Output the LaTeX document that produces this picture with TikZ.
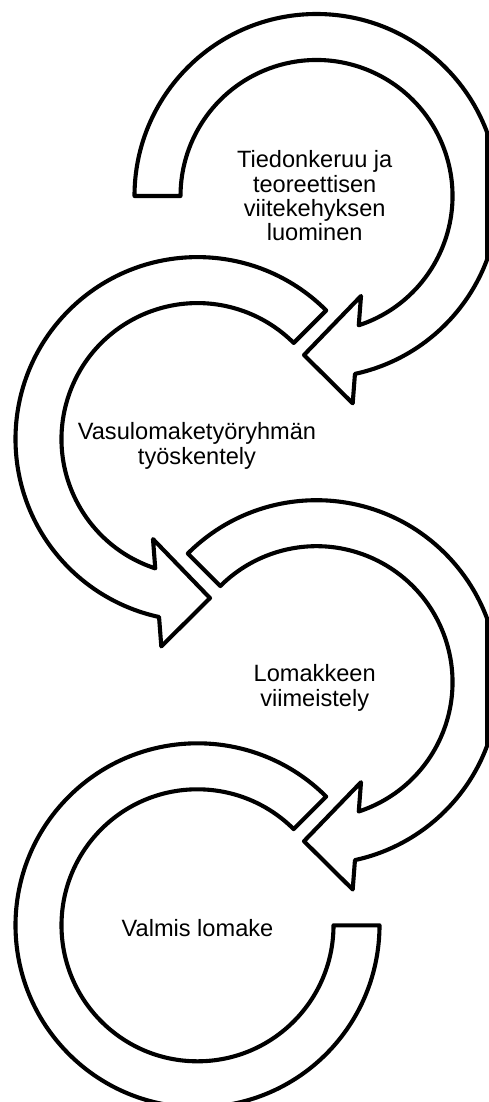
\documentclass[tikz,border=0pt]{standalone}
\usepackage{fontspec}
\setmainfont{Liberation Sans}
\begin{document}
\begin{tikzpicture}[x=1pt,y=-1pt,
  ring/.style={draw=black, fill=white, line width=4.1pt, line join=round},
  edge/.style={draw=black, line width=4.1pt},
  lbl/.style={align=center, font=\fontsize{23.6}{24.3}\selectfont, inner sep=0pt}]
\useasboundingbox (0,0) rectangle (489,1102);
\clip (0,0) rectangle (489,1102);
\fill[white] (0,0) rectangle (489,1102);
% circle 1
\begin{scope}[shift={(316.5,196)}]
\draw[ring] (180:182) arc[start angle=180, end angle=437.8, radius=182]
  -- (36.2,207.3) -- (-12.5,159) -- (44.5,100) -- (431.9:136)
  arc[start angle=431.9, end angle=180, radius=136] -- cycle;
\coordinate (e1a) at (170.5,-63.7);
\coordinate (e1b) at (170.5,63.7);
\end{scope}
\draw[edge] (e1a) -- (e1b);
% circle 2
\begin{scope}[shift={(197.5,439.1)}, xscale=-1]
\draw[ring] (225:182) arc[start angle=225, end angle=437.8, radius=182]
  -- (36.2,207.3) -- (-12.5,159) -- (44.5,100) -- (431.9:136)
  arc[start angle=431.9, end angle=225, radius=136] -- cycle;
\end{scope}
% circle 3
\begin{scope}[shift={(316.5,682.2)}]
\draw[ring] (225:182) arc[start angle=225, end angle=437.8, radius=182]
  -- (36.2,207.3) -- (-12.5,159) -- (44.5,100) -- (431.9:136)
  arc[start angle=431.9, end angle=225, radius=136] -- cycle;
\coordinate (e3a) at (170.5,-63.7);
\coordinate (e3b) at (170.5,63.7);
\end{scope}
\draw[edge] (e3a) -- (e3b);
% circle 4
\begin{scope}[shift={(197.5,925.3)}, xscale=-1]
\draw[ring] (225:182) arc[start angle=225, end angle=540, radius=182]
  -- (540:136) arc[start angle=540, end angle=225, radius=136] -- cycle;
\end{scope}
\node[lbl] (t1) at (314.7,196) {Tiedonkeruu ja\\teoreettisen\\viitekehyksen\\luominen};
\node[lbl] (t2) at (197,446) {Vasulomaketyöryhmän\\työskentely};
\node[lbl] (t3) at (314.7,688) {Lomakkeen\\viimeistely};
\node[lbl] (t4) at (197.5,927.6) {Valmis lomake};
\end{tikzpicture}
\end{document}
